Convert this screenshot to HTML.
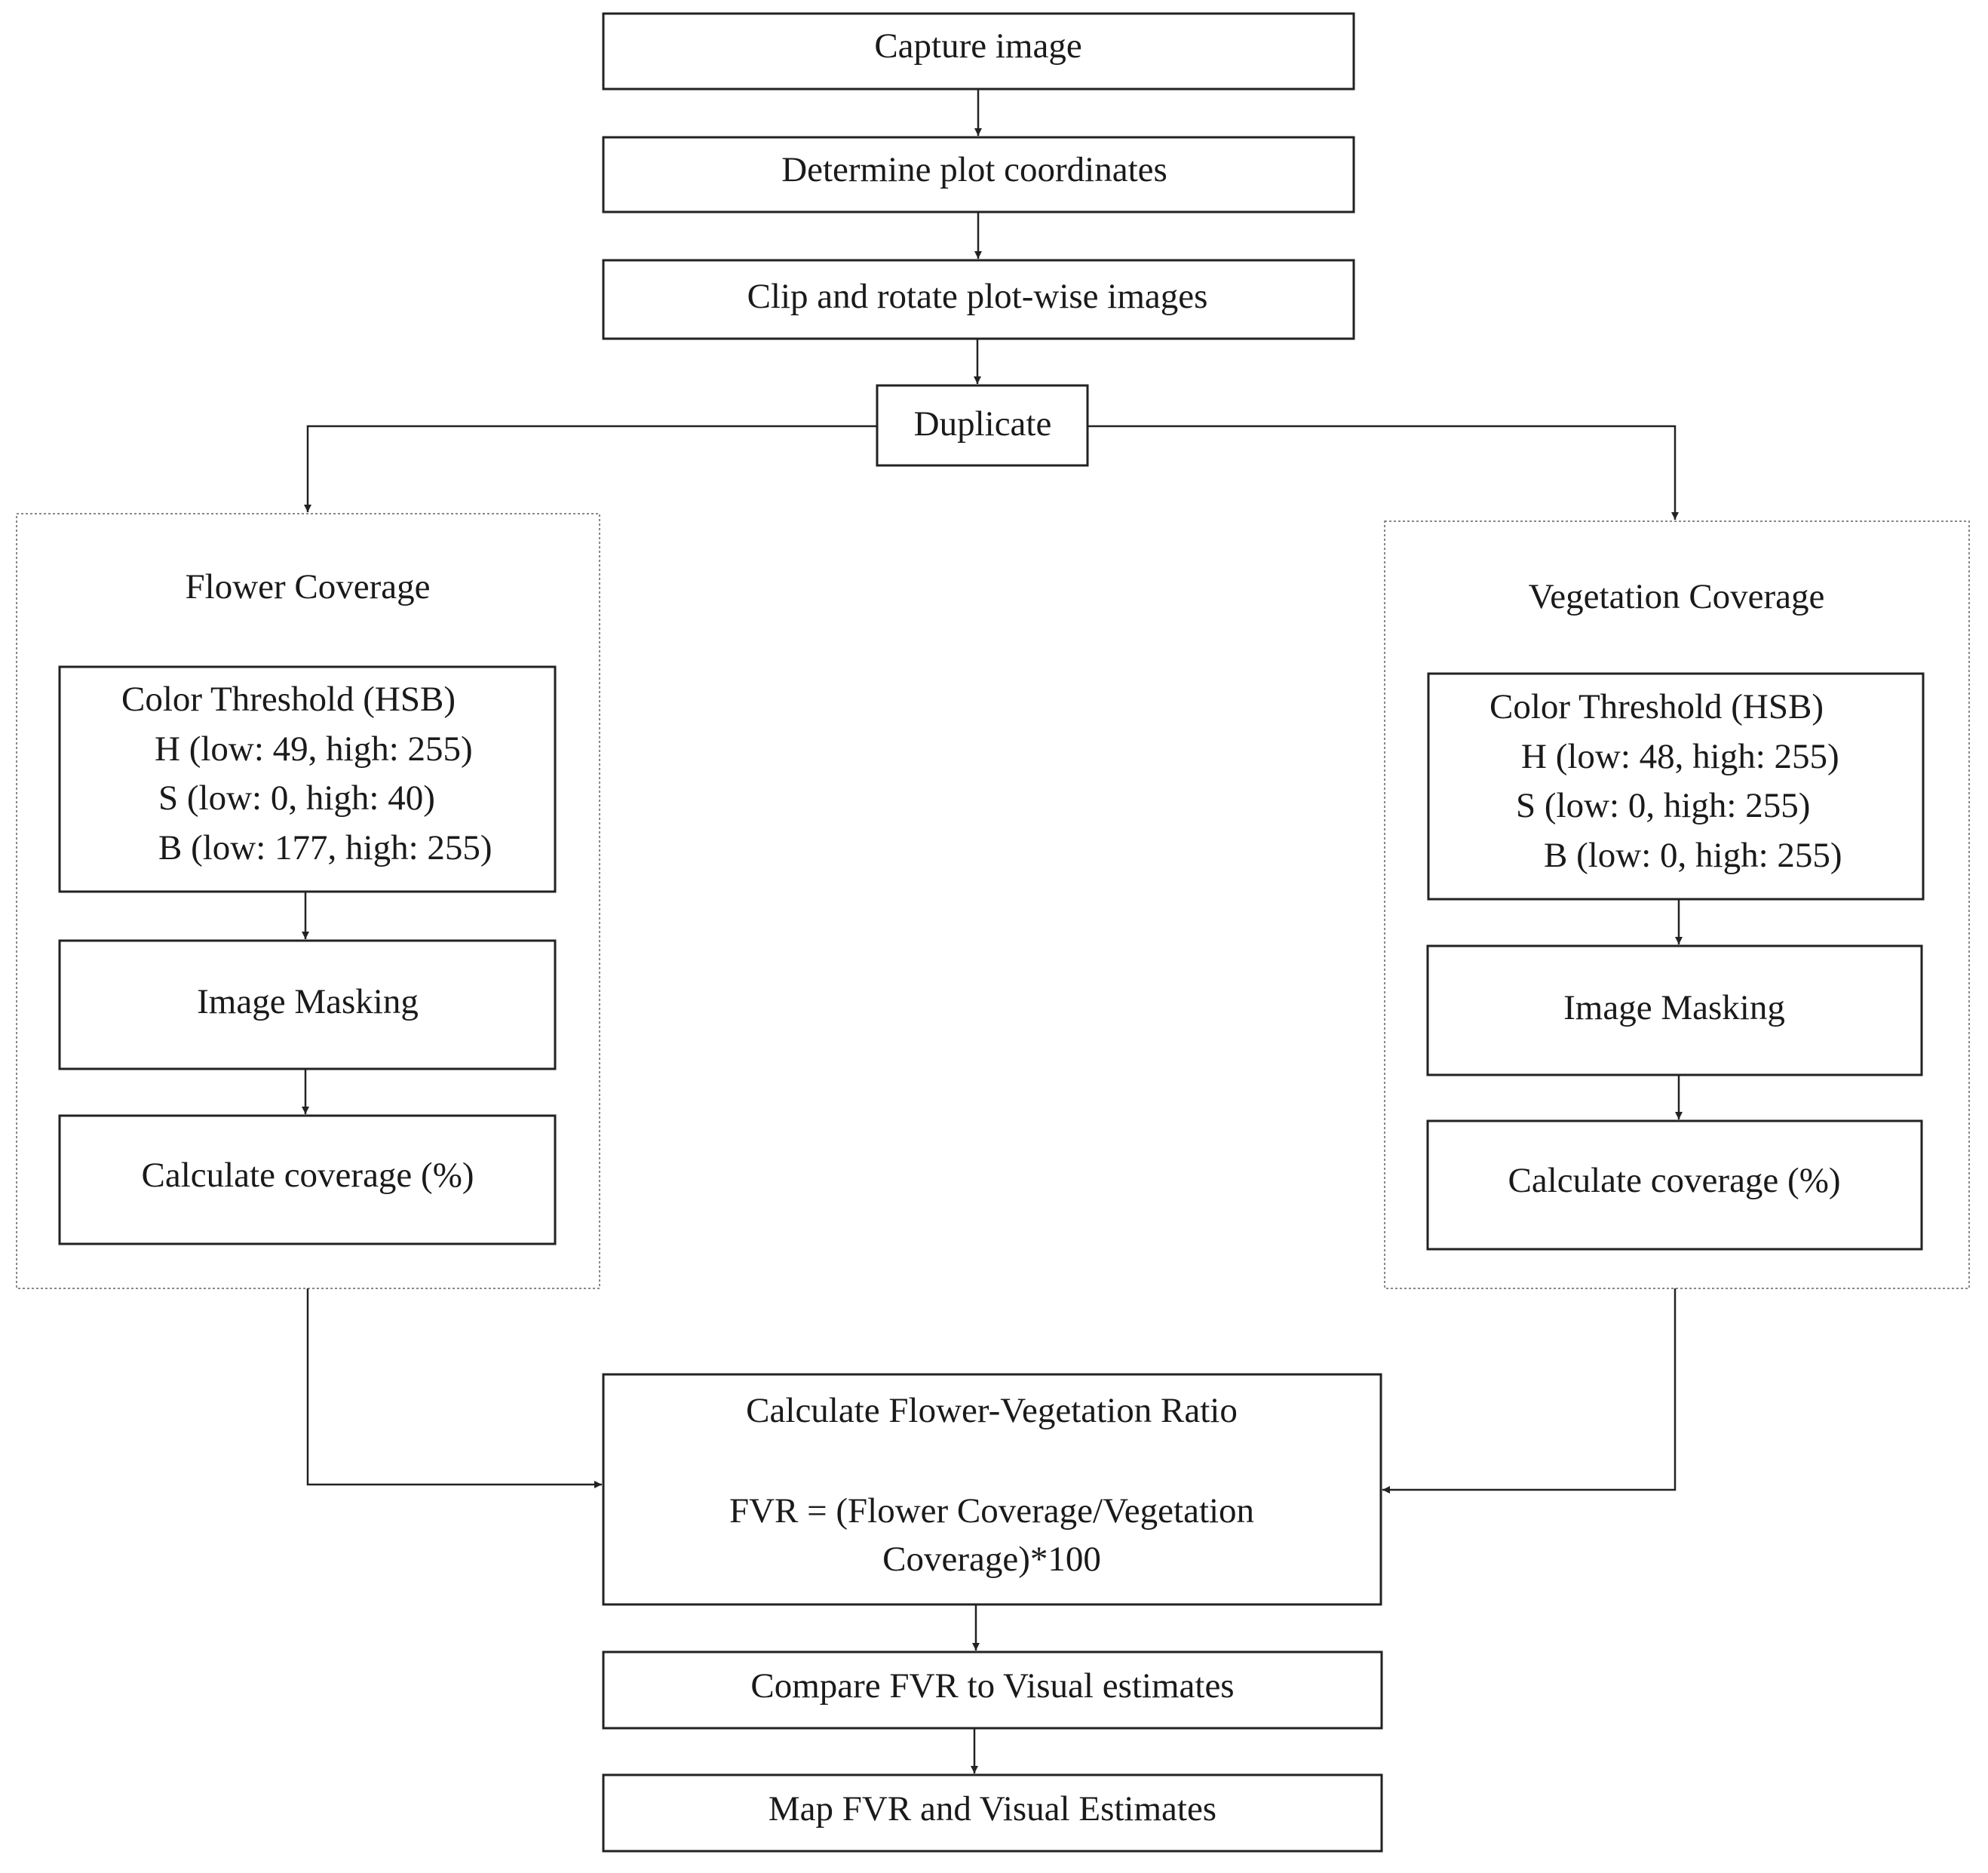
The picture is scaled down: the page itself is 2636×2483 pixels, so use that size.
<!DOCTYPE html>
<html><head><meta charset="utf-8"><style>
html,body{margin:0;padding:0;background:#fff;}
svg{display:block;}
text{font-family:"Liberation Serif",serif;font-size:47px;fill:#1a1a1a;}
</style></head><body>
<svg width="2636" height="2483" viewBox="0 0 2636 2483" xmlns="http://www.w3.org/2000/svg">
<defs><marker id="a" markerWidth="12" markerHeight="12" refX="10" refY="5" orient="auto" markerUnits="userSpaceOnUse"><path d="M0,0 L10,5 L0,10 z" fill="#222"/></marker></defs>
<g fill="none" stroke="#222" stroke-width="3">
<rect x="800" y="18" width="995" height="100"/>
<rect x="800" y="182" width="995" height="99"/>
<rect x="800" y="345" width="995" height="104"/>
<rect x="1163" y="511" width="279" height="106"/>
<rect x="79" y="884" width="657" height="298"/>
<rect x="79" y="1247" width="657" height="170"/>
<rect x="79" y="1479" width="657" height="170"/>
<rect x="1894" y="893" width="656" height="299"/>
<rect x="1893" y="1254" width="655" height="171"/>
<rect x="1893" y="1486" width="655" height="170"/>
<rect x="800" y="1822" width="1031" height="305"/>
<rect x="800" y="2190" width="1032" height="101"/>
<rect x="800" y="2353" width="1032" height="101"/>
</g>
<g fill="none" stroke="#888" stroke-width="2" stroke-dasharray="3,3">
<rect x="22" y="681" width="773" height="1027"/>
<rect x="1836" y="691" width="775" height="1017"/>
</g>
<g fill="none" stroke="#222" stroke-width="2.5" marker-end="url(#a)">
<line x1="1297" y1="118" x2="1297" y2="180"/>
<line x1="1297" y1="281" x2="1297" y2="343"/>
<line x1="1296" y1="449" x2="1296" y2="509"/>
<polyline points="1163,565 408,565 408,679"/>
<polyline points="1442,565 2221,565 2221,689"/>
<line x1="405" y1="1182" x2="405" y2="1245"/>
<line x1="405" y1="1417" x2="405" y2="1477"/>
<line x1="2226" y1="1192" x2="2226" y2="1252"/>
<line x1="2226" y1="1425" x2="2226" y2="1484"/>
<polyline points="408,1708 408,1968 798,1968"/>
<polyline points="2221,1708 2221,1975 1833,1975"/>
<line x1="1294" y1="2127" x2="1294" y2="2188"/>
<line x1="1292" y1="2291" x2="1292" y2="2351"/>
</g>
<g text-anchor="middle">
<text x="1297" y="76">Capture image</text>
<text x="1292" y="240">Determine plot coordinates</text>
<text x="1296" y="408">Clip and rotate plot-wise images</text>
<text x="1303" y="577">Duplicate</text>
<text x="408" y="793">Flower Coverage</text>
<text x="2223" y="806">Vegetation Coverage</text>
<text x="408" y="1343">Image Masking</text>
<text x="408" y="1573">Calculate coverage (%)</text>
<text x="2220" y="1351">Image Masking</text>
<text x="2220" y="1580">Calculate coverage (%)</text>
<text x="1315" y="1885">Calculate Flower-Vegetation Ratio</text>
<text x="1315" y="2018">FVR = (Flower Coverage/Vegetation</text>
<text x="1315" y="2082">Coverage)*100</text>
<text x="1316" y="2250">Compare FVR to Visual estimates</text>
<text x="1316" y="2413">Map FVR and Visual Estimates</text>
</g>
<text x="161" y="942">Color Threshold (HSB)</text>
<text x="205" y="1008">H (low: 49, high: 255)</text>
<text x="210" y="1073">S (low: 0, high: 40)</text>
<text x="210" y="1139">B (low: 177, high: 255)</text>
<text x="1975" y="952">Color Threshold (HSB)</text>
<text x="2017" y="1018">H (low: 48, high: 255)</text>
<text x="2010" y="1083">S (low: 0, high: 255)</text>
<text x="2047" y="1149">B (low: 0, high: 255)</text>
</svg>
</body></html>
